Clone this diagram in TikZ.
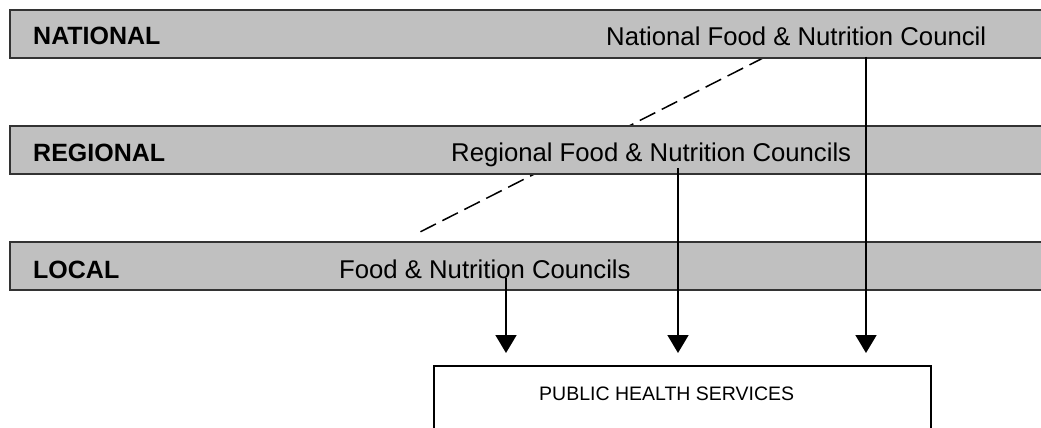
\documentclass[tikz,border=0pt]{standalone}
\usepackage{fontspec}
\setmainfont{Liberation Sans}
\usetikzlibrary{arrows.meta}
\definecolor{barfill}{HTML}{C0C0C0}
\definecolor{barline}{HTML}{333333}
\begin{document}
\begin{tikzpicture}[x=1pt,y=-1pt,
  levelbar/.style={draw=barline,fill=barfill,line width=1.6pt,rectangle,
    anchor=north west,minimum width=1060pt,minimum height=48pt,inner sep=0pt},
  levelname/.style={anchor=base west,inner sep=0pt,font=\fontsize{25}{30}\selectfont\bfseries},
  council/.style={anchor=base west,inner sep=0pt,font=\fontsize{25.7}{30}\selectfont},
  flow/.style={line width=1.8pt,-{Triangle[width=21pt,length=18pt]}},
  link/.style={line width=1.5pt,dash pattern=on 17.4pt off 7.2pt},
  servicebox/.style={draw=black,line width=1.5pt,rectangle,anchor=north west,
    minimum width=497pt,minimum height=100pt,inner sep=0pt}
]
\clip (0,0) rectangle (1041,428);
\fill[white] (0,0) rectangle (1041,428);

% dashed link between national and local level, passing behind the regional bar
\coordinate (linktop) at (765,57);
\coordinate (linkend) at (420,232);
\draw[link] (linktop) -- (linkend);

% level bars
\node[levelbar] (natbar) at (9,9) {};
\node[levelbar] (regbar) at (9,125) {};
\node[levelbar] (locbar) at (9,241) {};

% level names and councils
\node[levelname] (natname) at (33,45) {NATIONAL};
\node[council]   (natcouncil) at (606,46) {National Food \& Nutrition Council};
\node[levelname] (regname) at (33,161) {REGIONAL};
\node[council]   (regcouncil) at (451,161) {Regional Food \& Nutrition Councils};
\node[levelname] (locname) at (33,278) {LOCAL};
\node[council]   (loccouncil) at (339,278) {Food \& Nutrition Councils};

% public health services box
\node[servicebox] (phs) at (433,365) {};
\node[anchor=base west,inner sep=0pt,font=\fontsize{19.5}{24}\selectfont] (phslabel) at (539,400) {PUBLIC HEALTH SERVICES};

% arrows from each level down to the services
\coordinate (natout) at (866,57);
\coordinate (regout) at (678,168);
\coordinate (locout) at (506,278);
\coordinate (natin) at (866,353);
\coordinate (regin) at (678,353);
\coordinate (locin) at (506,353);
\draw[flow] (natout) -- (natin);
\draw[flow] (regout) -- (regin);
\draw[flow] (locout) -- (locin);
\end{tikzpicture}
\end{document}
